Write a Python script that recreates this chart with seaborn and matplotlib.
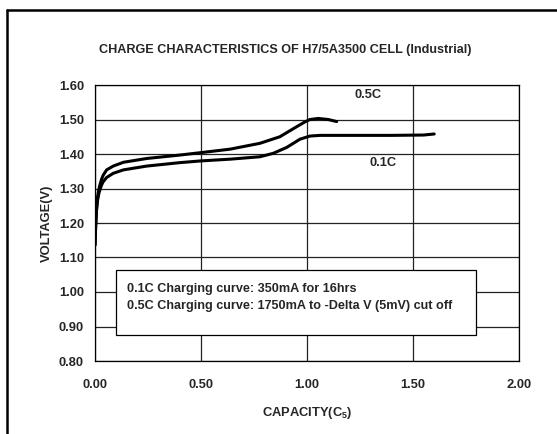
import matplotlib
matplotlib.use('Agg')
import matplotlib.pyplot as plt
from matplotlib.patches import Rectangle
from matplotlib.lines import Line2D
import seaborn as sns
import pandas as pd

# curve values
cap_01c = [0.0, 0.003, 0.007, 0.012, 0.018, 0.024, 0.031, 0.039, 0.055, 0.086, 0.134, 0.244,
           0.401, 0.5, 0.637, 0.778, 0.841, 0.904, 0.967, 1.014, 1.061, 1.2, 1.4, 1.55, 1.6]
volt_01c = [1.136, 1.19, 1.235, 1.265, 1.285, 1.298, 1.310, 1.320, 1.332, 1.344, 1.354, 1.365,
            1.375, 1.380, 1.385, 1.392, 1.402, 1.419, 1.443, 1.452, 1.454, 1.454, 1.454, 1.455,
            1.458]

cap_05c = [0.0, 0.003, 0.007, 0.012, 0.018, 0.024, 0.031, 0.039, 0.055, 0.086, 0.134, 0.244,
           0.401, 0.5, 0.637, 0.778, 0.872, 0.951, 0.99, 1.014, 1.053, 1.1, 1.14]
volt_05c = [1.136, 1.19, 1.24, 1.275, 1.297, 1.312, 1.327, 1.339, 1.354, 1.365, 1.376, 1.387,
            1.397, 1.404, 1.414, 1.431, 1.450, 1.479, 1.493, 1.500, 1.503, 1.500, 1.494]

x_ticks = [0.0, 0.5, 1.0, 1.5, 2.0]
y_ticks = [0.8, 0.9, 1.0, 1.1, 1.2, 1.3, 1.4, 1.5, 1.6]

df = pd.concat([
    pd.DataFrame({'cap': cap_01c, 'volt': volt_01c, 'rate': '0.1C'}),
    pd.DataFrame({'cap': cap_05c, 'volt': volt_05c, 'rate': '0.5C'}),
])

sns.set_style('white')
plt.rcParams['font.family'] = ['Liberation Sans', 'DejaVu Sans']
plt.rcParams['mathtext.fontset'] = 'custom'
plt.rcParams['mathtext.rm'] = 'Liberation Sans:bold'

fig = plt.figure(figsize=(5.57, 4.34), dpi=100)
ax = fig.add_axes([95/557, 1-361/434, 424/557, 276/434])

sns.lineplot(data=df, x='cap', y='volt', units='rate', estimator=None, sort=False,
             color='black', lw=2.2, ax=ax, zorder=3)

ax.set_xlim(0, 2)
ax.set_ylim(0.8, 1.6)
ax.set_xticks(x_ticks)
ax.set_yticks(y_ticks)
ax.set_xticklabels(['%.2f' % v for v in x_ticks], fontsize=9.3, fontweight='bold')
ax.set_yticklabels(['%.2f' % v for v in y_ticks], fontsize=9.3, fontweight='bold')
ax.tick_params(axis='y', length=0, pad=8)
ax.tick_params(axis='x', length=0, pad=13)
ax.grid(True, color='#222222', lw=0.9)
for s in ax.spines.values():
    s.set_color('black')
    s.set_linewidth(0.9)

ax.set_xlabel(r'$\mathrm{CAPACITY(C_5)}$', fontsize=9.3, labelpad=10)
ax.set_ylabel('VOLTAGE(V)', fontsize=9.3, fontweight='bold', labelpad=4)

# note box
ax.add_patch(Rectangle((0.10, 0.874), 1.695, 0.189, facecolor='white',
                       edgecolor='black', lw=0.9, zorder=4))
ax.text(0.15, 1.010, '0.1C Charging curve: 350mA for 16hrs', fontsize=9.1,
        fontweight='bold', va='center', zorder=5)
ax.text(0.15, 0.959, '0.5C Charging curve: 1750mA to -Delta V (5mV) cut off', fontsize=9.1,
        fontweight='bold', va='center', zorder=5)

ax.text(1.288, 1.571, '0.5C', fontsize=9.3, fontweight='bold', ha='center', va='center')
ax.text(1.358, 1.374, '0.1C', fontsize=9.3, fontweight='bold', ha='center', va='center')

fig.text(285/557, 1-50/434, 'CHARGE CHARACTERISTICS OF H7/5A3500 CELL (Industrial)',
         fontsize=9.1, fontweight='bold', ha='center', va='center')

# outer frame (left and top edges only visible)
fig.add_artist(Line2D([6.5/557, 6.5/557], [0, 1-10/434], color='black', lw=1.8,
                      transform=fig.transFigure))
fig.add_artist(Line2D([6.5/557, 1], [1-10/434, 1-10/434], color='black', lw=1.8,
                      transform=fig.transFigure))

fig.savefig('out.png', dpi=100)
